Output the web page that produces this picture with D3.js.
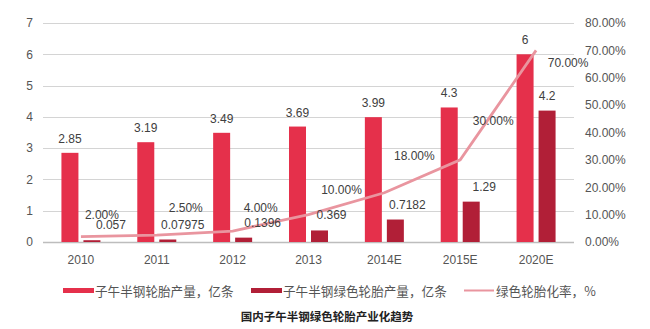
<!DOCTYPE html>
<html><head><meta charset="utf-8">
<script src="https://cdn.jsdelivr.net/npm/d3@7"></script>
<style>
html,body{margin:0;padding:0;background:#fff;}
svg{display:block;font-family:"Liberation Sans",Arial,sans-serif;}
.cjk{font-family:"Noto Sans CJK SC","Liberation Sans",sans-serif;}
</style></head>
<body><svg id="c" width="650" height="329"></svg>
<script>
const categories = ["2010","2011","2012","2013","2014E","2015E","2020E"];
const radialOutput = [2.85,3.19,3.49,3.69,3.99,4.3,6];
const greenOutput = [0.057,0.07975,0.1396,0.369,0.7182,1.29,4.2];
const greenRate = [0.02,0.025,0.04,0.10,0.18,0.30,0.70];
const leftTicks = [0,1,2,3,4,5,6,7];
const rightTicks = [0,0.1,0.2,0.3,0.4,0.5,0.6,0.7,0.8];
const seriesNames = ["子午半钢轮胎产量，亿条","子午半钢绿色轮胎产量，亿条","绿色轮胎化率，%"];
const title = "国内子午半钢绿色轮胎产业化趋势";
// label nudges (styling)
const greenLabelDx = [19,15,19,12,12,13,0];
const rateLabelDx = [21,29,28,33,30,33,32];
const rateLabelDy = [-22,-27,-23,-25,-37,-39,13];

const colors = {red:"#e5304b", dark:"#b11f37", line:"#e9959f", grid:"#d4d4d4", axis:"#bdbdbd", tick:"#555", label:"#404040"};

const svg = d3.select("#c");
const x0 = 43, x1 = 574, yTop = 23, yBot = 242;
const x = d3.scaleBand().domain(categories).range([x0,x1]);
const yL = d3.scaleLinear().domain([0,7]).range([yBot,yTop]);
const yR = d3.scaleLinear().domain([0,0.8]).range([yBot,yTop]);
const barW = 17, gap = 5;
const cx = c => x(c) + x.bandwidth()/2;

// gridlines
svg.append("g").selectAll("line").data(leftTicks).join("line")
  .attr("x1",x0).attr("x2",x1)
  .attr("y1",d=>Math.round(yL(d))+0.5).attr("y2",d=>Math.round(yL(d))+0.5)
  .attr("stroke",d=>d===0?colors.axis:colors.grid).attr("stroke-width",d=>d===0?1.5:1);

// left axis
const la = svg.append("g").attr("transform",`translate(${x0},0)`)
  .call(d3.axisLeft(yL).tickValues(leftTicks).tickSize(0).tickPadding(10).tickFormat(d3.format("d")));
la.select(".domain").remove();
la.selectAll("text").attr("font-size",12).attr("fill",colors.tick).attr("font-family","Liberation Sans, Arial");

// right axis
const ra = svg.append("g").attr("transform",`translate(${x1},0)`)
  .call(d3.axisRight(yR).tickValues(rightTicks).tickSize(0).tickPadding(11).tickFormat(d3.format(".2%")));
ra.select(".domain").remove();
ra.selectAll("text").attr("font-size",12).attr("fill",colors.tick).attr("font-family","Liberation Sans, Arial");

// bottom axis
const ba = svg.append("g").attr("transform",`translate(0,${yBot})`)
  .call(d3.axisBottom(x).tickSize(0).tickPadding(13));
ba.select(".domain").remove();
ba.selectAll("text").attr("font-size",12).attr("fill",colors.tick).attr("font-family","Liberation Sans, Arial");

// bars
svg.append("g").selectAll("rect").data(categories).join("rect")
  .attr("x",(c)=>cx(c)-gap/2-barW).attr("width",barW)
  .attr("y",(c,i)=>yL(radialOutput[i])).attr("height",(c,i)=>yBot-yL(radialOutput[i]))
  .attr("fill",colors.red);
svg.append("g").selectAll("rect").data(categories).join("rect")
  .attr("x",(c)=>cx(c)+gap/2).attr("width",barW)
  .attr("y",(c,i)=>yL(greenOutput[i])).attr("height",(c,i)=>yBot-yL(greenOutput[i]))
  .attr("fill",colors.dark);

// line
const line = d3.line().x((d,i)=>cx(categories[i])).y(d=>yR(d));
svg.append("path").datum(greenRate).attr("d",line)
  .attr("fill","none").attr("stroke",colors.line).attr("stroke-width",2.8);

// labels
const lab = svg.append("g").attr("font-size",12).attr("fill",colors.label).attr("text-anchor","middle");
lab.selectAll("text.r").data(categories).join("text").attr("class","r")
  .attr("x",c=>cx(c)-gap/2-barW/2).attr("y",(c,i)=>yL(radialOutput[i])-10)
  .text((c,i)=>radialOutput[i]);
lab.selectAll("text.g").data(categories).join("text").attr("class","g")
  .attr("x",(c,i)=>cx(c)+gap/2+barW/2+greenLabelDx[i]).attr("y",(c,i)=>yL(greenOutput[i])-11)
  .text((c,i)=>greenOutput[i]);
lab.selectAll("text.p").data(categories).join("text").attr("class","p")
  .attr("x",(c,i)=>cx(c)+rateLabelDx[i]).attr("y",(c,i)=>yR(greenRate[i])+rateLabelDy[i]+4)
  .text((c,i)=>d3.format(".2%")(greenRate[i]));

// legend
const lg = svg.append("g").attr("class","cjk");
const legendItems = [
  {x:63, type:"rect", color:colors.red, text:seriesNames[0]},
  {x:251, type:"rect", color:colors.dark, text:seriesNames[1]},
  {x:464, type:"line", color:colors.line, text:seriesNames[2]}
];
legendItems.forEach(it=>{
  if(it.type==="rect"){
    lg.append("rect").attr("x",it.x).attr("y",288).attr("width",31).attr("height",5).attr("fill",it.color);
  } else {
    lg.append("line").attr("x1",it.x).attr("x2",it.x+30).attr("y1",290.5).attr("y2",290.5).attr("stroke",it.color).attr("stroke-width",2);
  }
  lg.append("text").attr("x",it.x+32).attr("y",295.5).attr("font-size",12.6).attr("fill","#555").text(it.text);
});

svg.append("text").attr("class","cjk").attr("x",327).attr("y",321).attr("text-anchor","middle")
  .attr("font-size",11.5).attr("font-weight","bold").attr("fill","#222").text(title);
</script></body></html>
